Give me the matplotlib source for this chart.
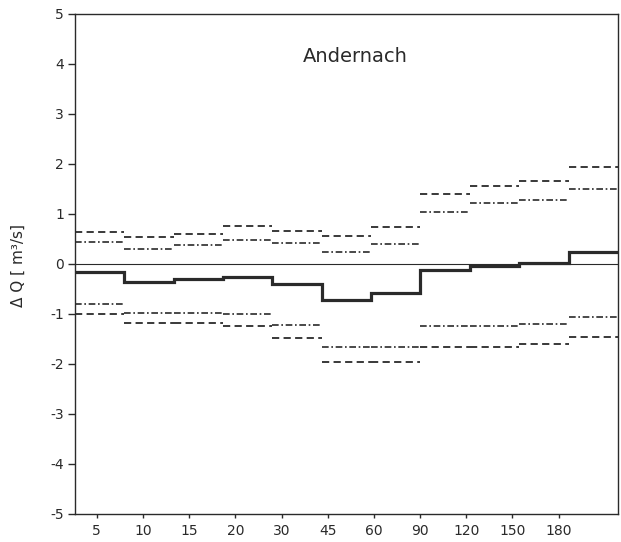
import numpy as np
import matplotlib
matplotlib.use("Agg")
import matplotlib.pyplot as plt

categories = ["5", "10", "15", "20", "30", "45", "60", "90", "120", "150", "180"]
mean_dq = [-0.16, -0.37, -0.31, -0.26, -0.41, -0.72, -0.59, -0.13, -0.04, 0.02, 0.23]
upper_dashed = [0.64, 0.54, 0.59, 0.75, 0.66, 0.56, 0.74, 1.40, 1.56, 1.65, 1.93]
upper_dashdot = [0.43, 0.30, 0.37, 0.48, 0.41, 0.23, 0.40, 1.04, 1.21, 1.27, 1.49]
lower_dashdot = [-0.81, -0.98, -0.98, -1.00, -1.23, -1.67, -1.67, -1.24, -1.24, -1.21, -1.07]
lower_dashed = [-1.00, -1.19, -1.19, -1.24, -1.49, -1.97, -1.97, -1.67, -1.67, -1.60, -1.47]
y_ticks = [-5, -4, -3, -2, -1, 0, 1, 2, 3, 4, 5]
title = "Andernach"
ylabel = "Δ Q [ m³/s]"

ink = "#2a2a2a"
fig = plt.figure(figsize=(6.21, 5.42), dpi=100)
ax = fig.add_axes([0.1208, 0.0517, 0.8742, 0.9225])

n = len(categories)
edges = np.arange(n + 1)
left = edges[:-1]
right = edges[1:]

ax.axhline(0, color=ink, lw=0.8, zorder=1)
dash = (0, (4, 2.4))
dashdot = (0, (4, 1.6, 1, 1.6))
ax.hlines(upper_dashed, left, right, colors=ink, linestyles=[dash], lw=1.3)
ax.hlines(lower_dashed, left, right, colors=ink, linestyles=[dash], lw=1.3)
ax.hlines(upper_dashdot, left, right, colors=ink, linestyles=[dashdot], lw=1.2)
ax.hlines(lower_dashdot, left, right, colors=ink, linestyles=[dashdot], lw=1.2)
ax.stairs(mean_dq, edges, color=ink, lw=2.3, baseline=None, zorder=3)

ax.set_xlim(0, n)
ax.set_ylim(-5, 5)
ax.set_yticks(y_ticks)
ax.set_yticklabels([str(v) for v in y_ticks])
tick_pos = 0.44 + 0.936 * np.arange(n)
ax.set_xticks(tick_pos)
ax.set_xticklabels(categories)
ax.tick_params(axis="both", direction="out", labelsize=10, colors=ink, width=1.0)
ax.tick_params(axis="y", length=5, pad=3)
ax.tick_params(axis="x", length=3, pad=4)
for s in ax.spines.values():
    s.set_color(ink)
    s.set_linewidth(1.0)

ax.text(0.517, 0.914, title, transform=ax.transAxes, ha="center", va="center",
        fontsize=14, color=ink)
fig.text(18 / 621, 0.511, ylabel, rotation=90, ha="center", va="center",
         fontsize=11, color=ink)

fig.savefig("out.png", dpi=100, facecolor="white")
